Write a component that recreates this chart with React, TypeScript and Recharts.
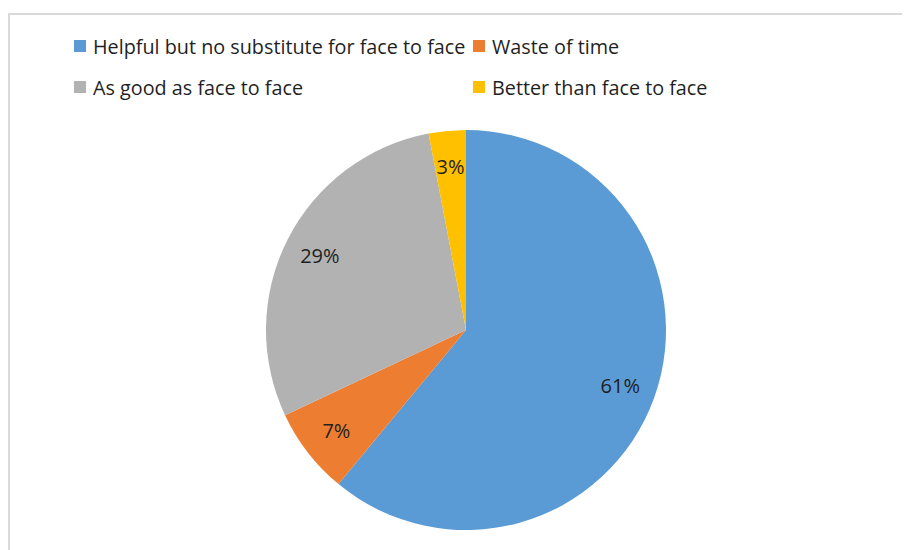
import { PieChart, Pie, Cell } from "recharts";

const categories = [
  "Helpful but no substitute for face to face",
  "Waste of time",
  "As good as face to face",
  "Better than face to face",
];
const shares = [61, 7, 29, 3];
const COLORS = ["#5B9BD5", "#ED7D31", "#B2B2B2", "#FFC000"];

const data = categories.map((name, i) => ({ name, value: shares[i] }));

const FONT = "'Open Sans', 'Noto Sans', sans-serif";
const RADIAN = Math.PI / 180;

const renderLabel = (props: any) => {
  const { cx, cy, midAngle, outerRadius, value } = props;
  const r = outerRadius * 0.82;
  const x = cx + r * Math.cos(-midAngle * RADIAN);
  const y = cy + r * Math.sin(-midAngle * RADIAN);
  return (
    <text
      x={x}
      y={y}
      fill="#1F1F1F"
      textAnchor="middle"
      dominantBaseline="central"
      fontSize={20}
      fontFamily={FONT}
    >
      {`${value}%`}
    </text>
  );
};

function ChartLegend() {
  return (
    <div style={{ position: "absolute", left: 66, top: 26, width: 760, height: 90, fontFamily: FONT, fontSize: 19.8, color: "#1F1F1F" }}>
      {categories.map((label, i) => {
        const col = i % 2;
        const row = Math.floor(i / 2);
        return (
          <div
            key={label}
            style={{
              position: "absolute",
              left: col === 0 ? 0 : 399,
              top: row * 41,
              display: "flex",
              alignItems: "center",
              whiteSpace: "nowrap",
              height: 24,
            }}
          >
            <span style={{ display: "inline-block", width: 12, height: 12, background: COLORS[i], marginRight: 7 }} />
            <span>{label}</span>
          </div>
        );
      })}
    </div>
  );
}

export default function App() {
  return (
    <div style={{ position: "relative", width: 902, height: 542, overflow: "hidden", background: "#fff" }}>
      <div
        style={{
          position: "absolute",
          left: 0,
          top: 5,
          width: 1000,
          height: 1000,
          borderTop: "2px solid #D9D9D9",
          borderLeft: "2px solid #D9D9D9",
        }}
      />
      <ChartLegend />
      <div style={{ position: "absolute", left: 0, top: 0 }}>
        <PieChart width={902} height={542} margin={{ top: 0, right: 0, bottom: 0, left: 0 }}>
          <Pie
            data={data}
            dataKey="value"
            nameKey="name"
            cx={458}
            cy={322}
            outerRadius={200}
            startAngle={90}
            endAngle={-270}
            stroke="none"
            label={renderLabel}
            labelLine={false}
            isAnimationActive={false}
          >
            {data.map((_, i) => (
              <Cell key={`cell-${i}`} fill={COLORS[i]} />
            ))}
          </Pie>
        </PieChart>
      </div>
    </div>
  );
}
